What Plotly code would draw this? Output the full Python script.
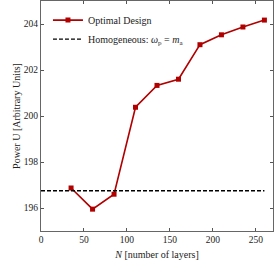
import plotly.graph_objects as go

layers = [35, 60, 85, 110, 135, 160, 185, 210, 235, 260]
power = [196.87, 195.95, 196.6, 200.38, 201.33, 201.6, 203.1, 203.53, 203.87, 204.17]
homog_x = [0, 260]
homog_y = [196.75, 196.75]

red = "#b00000"
font = "Liberation Serif"

fig = go.Figure()
fig.add_trace(go.Scatter(x=layers, y=power, mode="lines+markers",
                         name="Optimal Design",
                         line=dict(color=red, width=1.6),
                         marker=dict(symbol="square", size=5, color=red)))
fig.add_trace(go.Scatter(x=homog_x, y=homog_y, mode="lines",
                         name="Homogeneous: <i>ω</i><sub>p</sub> = <i>m</i><sub>a</sub>",
                         line=dict(color="black", width=1.4, dash="4px,2px")))

fig.update_layout(
    width=274, height=263,
    margin=dict(l=41, r=1, t=1, b=32),
    paper_bgcolor="white", plot_bgcolor="white",
    font=dict(family=font, size=9.5, color="#222"),
    showlegend=True,
    legend=dict(x=0.03, y=0.98, xanchor="left", yanchor="top",
                bgcolor="rgba(255,255,255,0)", font=dict(size=10, color="#222"),
                tracegroupgap=0, itemwidth=30),
    xaxis=dict(range=[0, 270], tickvals=[0, 50, 100, 150, 200, 250],
               ticks="inside", ticklen=3, tickcolor="#555",
               showline=True, linecolor="#666", linewidth=1, mirror="ticks",
               showgrid=False, zeroline=False,
               title=dict(text="<i>N</i> [number of layers]", standoff=6,
                          font=dict(size=10, color="#222"))),
    yaxis=dict(range=[195, 205], tickvals=[196, 198, 200, 202, 204],
               ticks="inside", ticklen=3, tickcolor="#555",
               showline=True, linecolor="#666", linewidth=1, mirror="ticks",
               showgrid=False, zeroline=False,
               title=dict(text="Power U [Arbitrary Units]", standoff=1,
                          font=dict(size=10, color="#222"))),
)
fig.write_html("out.html", config={"displayModeBar": False},
               post_script="document.body.style.margin='0';document.body.style.padding='0';document.body.style.overflow='hidden';")
